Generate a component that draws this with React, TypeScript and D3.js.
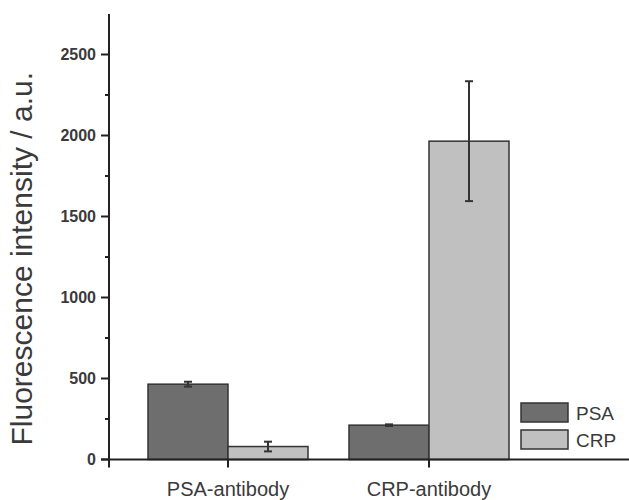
import React from 'react';
import * as d3 from 'd3';

// data
const groups = ['PSA-antibody', 'CRP-antibody'];
const series = ['PSA', 'CRP'];
const means = [
  [465, 80],   // PSA-antibody
  [212, 1965], // CRP-antibody
];
const errors = [
  [15, 30],
  [5, 370],
];
const yTicks = [0, 500, 1000, 1500, 2000, 2500];
const yMinorTicks = [250, 750, 1250, 1750, 2250];
const colors = ['#6e6e6e', '#c0c0c0'];

const App = () => {
  const width = 629;
  const height = 500;
  const margin = { top: 14, right: 0, bottom: 40.5, left: 109 };
  const baseY = height - margin.bottom;

  const y = d3.scaleLinear()
    .domain([0, 2750])
    .range([baseY, margin.top]);

  // group centres
  const x = d3.scalePoint<string>()
    .domain(groups)
    .range([228, 429]);

  const barW = 80;
  const inner = d3.scaleBand<string>()
    .domain(series)
    .range([-barW, barW]);

  const axisColor = '#222';
  const textColor = '#3a3a3a';

  return (
    <svg width={width} height={height} style={{ position: 'absolute', left: 0, top: 0, background: '#fff' }}
      fontFamily="Arial, 'Liberation Sans', sans-serif">
      {/* bars */}
      {groups.map((g, gi) => (
        <g key={g} transform={`translate(${x(g)},0)`}>
          {series.map((s, si) => {
            const v = means[gi][si];
            const e = errors[gi][si];
            const bx = inner(s)!;
            const cx = bx + inner.bandwidth() / 2;
            return (
              <g key={s}>
                <rect x={bx} y={y(v)} width={inner.bandwidth()} height={baseY - y(v)}
                  fill={colors[si]} stroke="#333" strokeWidth={1.5} />
                <line x1={cx} x2={cx} y1={y(v + e)} y2={y(v - e)} stroke="#333" strokeWidth={2} />
                <line x1={cx - 4} x2={cx + 4} y1={y(v + e)} y2={y(v + e)} stroke="#333" strokeWidth={2} />
                <line x1={cx - 4} x2={cx + 4} y1={y(v - e)} y2={y(v - e)} stroke="#333" strokeWidth={2} />
              </g>
            );
          })}
        </g>
      ))}

      {/* y axis */}
      <line x1={margin.left} x2={margin.left} y1={margin.top} y2={baseY + 8} stroke={axisColor} strokeWidth={2} />
      {yTicks.map(t => (
        <g key={t}>
          <line x1={margin.left - 8} x2={margin.left} y1={y(t)} y2={y(t)} stroke={axisColor} strokeWidth={2} />
          <text x={margin.left - 13} y={y(t)} dy="0.36em" textAnchor="end" fontSize={16}
            fontWeight="bold" fill={textColor}>{t}</text>
        </g>
      ))}
      {yMinorTicks.map(t => (
        <line key={t} x1={margin.left - 4} x2={margin.left} y1={y(t)} y2={y(t)} stroke={axisColor} strokeWidth={2} />
      ))}

      {/* x axis */}
      <line x1={margin.left - 8} x2={width} y1={baseY} y2={baseY} stroke={axisColor} strokeWidth={2} />
      {groups.map(g => (
        <g key={g}>
          <line x1={x(g)} x2={x(g)} y1={baseY} y2={baseY + 8} stroke={axisColor} strokeWidth={2} />
          <text x={x(g)} y={baseY + 36} textAnchor="middle" fontSize={20} fill={textColor}>{g}</text>
        </g>
      ))}

      {/* y label */}
      <text transform={`translate(32,${(margin.top + baseY) / 2 + 22}) rotate(-90)`} textAnchor="middle"
        fontSize={30} fill={textColor}>Fluorescence intensity / a.u.</text>

      {/* legend */}
      {series.map((s, si) => (
        <g key={s} transform={`translate(521,${403 + si * 27})`}>
          <rect x={0} y={0} width={47} height={19} fill={colors[si]} stroke="#333" strokeWidth={1.5} />
          <text x={55} y={17} fontSize={19} fill={textColor}>{s}</text>
        </g>
      ))}
    </svg>
  );
};

export default App;
